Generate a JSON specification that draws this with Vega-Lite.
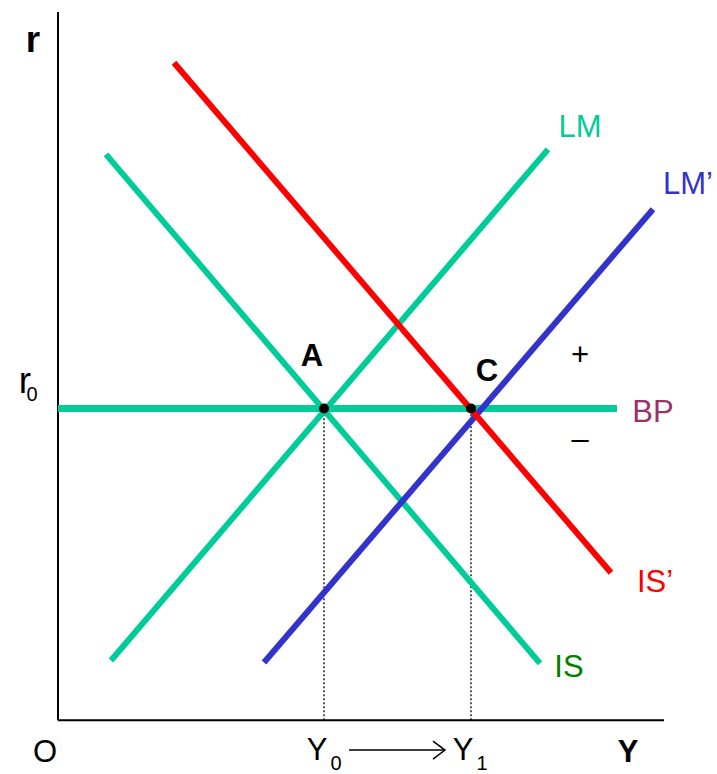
{
  "$schema": "https://vega.github.io/schema/vega-lite/v6.json",
  "width": 717,
  "height": 774,
  "autosize": {"type": "fit", "contains": "padding"},
  "padding": 0,
  "background": "white",
  "config": {"view": {"stroke": null}},
  "datasets": {
    "axes": [
      {"x": 0, "y": 0, "x2": 0, "y2": 711},
      {"x": 0, "y": 0, "x2": 606, "y2": 0}
    ],
    "guides": [
      {"x": 266, "y": 0, "x2": 266, "y2": 313},
      {"x": 413, "y": 0, "x2": 413, "y2": 313}
    ],
    "curves": [
      {"series": "BP", "pt": 1, "x": 0, "y": 313},
      {"series": "BP", "pt": 2, "x": 559, "y": 313},
      {"series": "LM", "pt": 1, "x": 53, "y": 60},
      {"series": "LM", "pt": 2, "x": 490, "y": 573},
      {"series": "IS", "pt": 1, "x": 48, "y": 568},
      {"series": "IS", "pt": 2, "x": 482, "y": 57},
      {"series": "LM’", "pt": 1, "x": 206, "y": 58},
      {"series": "LM’", "pt": 2, "x": 595, "y": 513},
      {"series": "IS’", "pt": 1, "x": 116, "y": 660},
      {"series": "IS’", "pt": 2, "x": 553, "y": 148}
    ],
    "points": [
      {"label": "A", "x": 266, "y": 313},
      {"label": "C", "x": 413, "y": 313}
    ],
    "shaft": [{"x": 291, "y": -30, "x2": 387, "y2": -30}],
    "head": [
      {"pt": 1, "x": 375, "y": -21},
      {"pt": 2, "x": 387, "y": -30},
      {"pt": 3, "x": 375, "y": -39}
    ],
    "bold": [
      {"label": "Y", "x": 570, "y": -42},
      {"label": "A", "x": 254, "y": 356},
      {"label": "C", "x": 429, "y": 341}
    ],
    "rbold": [{"label": "r", "x": -25, "y": 671}],
    "rreg": [{"label": "r", "x": -33, "y": 328}],
    "regular": [
      {"label": "O", "x": -13, "y": -42},
      {"label": "Y", "x": 259, "y": -40},
      {"label": "Y", "x": 405, "y": -40},
      {"label": "LM", "x": 522, "y": 585},
      {"label": "LM’", "x": 630, "y": 528},
      {"label": "BP", "x": 595, "y": 299},
      {"label": "IS’", "x": 597, "y": 129},
      {"label": "IS", "x": 511, "y": 43},
      {"label": "+", "x": 522, "y": 357},
      {"label": "–", "x": 522, "y": 272}
    ],
    "subs": [
      {"label": "0", "x": -26, "y": 320},
      {"label": "0", "x": 278, "y": -50},
      {"label": "1", "x": 424, "y": -50}
    ]
  },
  "encoding": {
    "x": {"field": "x", "type": "quantitative", "scale": {"domain": [-58, 659], "nice": false, "zero": false}, "axis": null},
    "y": {"field": "y", "type": "quantitative", "scale": {"domain": [-51, 723], "nice": false, "zero": false}, "axis": null}
  },
  "layer": [
    {
      "data": {"name": "axes"},
      "mark": {"type": "rule", "color": "black", "strokeWidth": 2},
      "encoding": {"x2": {"field": "x2"}, "y2": {"field": "y2"}}
    },
    {
      "data": {"name": "guides"},
      "mark": {"type": "rule", "color": "black", "strokeWidth": 1.3, "strokeDash": [2, 2]},
      "encoding": {"x2": {"field": "x2"}, "y2": {"field": "y2"}}
    },
    {
      "data": {"name": "curves"},
      "transform": [{"filter": "datum.series == 'BP'"}],
      "mark": {"type": "line", "strokeWidth": 7},
      "encoding": {
        "color": {"field": "series", "type": "nominal", "scale": {"domain": ["BP"], "range": ["#00CC99"]}, "legend": null},
        "order": {"field": "pt"}
      }
    },
    {
      "data": {"name": "curves"},
      "transform": [{"filter": "datum.series != 'BP'"}],
      "mark": {"type": "line", "strokeWidth": 6},
      "encoding": {
        "color": {"field": "series", "type": "nominal", "scale": {"domain": ["LM", "IS", "LM’", "IS’"], "range": ["#00CC99", "#00CC99", "#3333CC", "#FF0000"]}, "legend": null},
        "order": {"field": "pt"}
      }
    },
    {
      "data": {"name": "shaft"},
      "mark": {"type": "rule", "color": "black", "strokeWidth": 1.5},
      "encoding": {"x2": {"field": "x2"}, "y2": {"field": "y2"}}
    },
    {
      "data": {"name": "head"},
      "mark": {"type": "line", "color": "black", "strokeWidth": 1.5},
      "encoding": {"order": {"field": "pt"}}
    },
    {
      "data": {"name": "points"},
      "mark": {"type": "circle", "color": "black", "opacity": 1, "size": 100},
      "encoding": {}
    },
    {
      "data": {"name": "bold"},
      "mark": {"type": "text", "font": "Liberation Sans", "fontWeight": "bold", "fontSize": 31, "align": "center", "baseline": "alphabetic", "color": "black"},
      "encoding": {"text": {"field": "label"}}
    },
    {
      "data": {"name": "rbold"},
      "mark": {"type": "text", "font": "Liberation Sans", "fontWeight": "bold", "fontSize": 37, "align": "center", "baseline": "alphabetic", "color": "black"},
      "encoding": {"text": {"field": "label"}}
    },
    {
      "data": {"name": "rreg"},
      "mark": {"type": "text", "font": "Liberation Sans", "fontSize": 37, "align": "center", "baseline": "alphabetic", "color": "black"},
      "encoding": {"text": {"field": "label"}}
    },
    {
      "data": {"name": "regular"},
      "mark": {"type": "text", "font": "Liberation Sans", "fontSize": 31, "align": "center", "baseline": "alphabetic"},
      "encoding": {
        "text": {"field": "label"},
        "color": {"field": "label", "type": "nominal", "scale": {"domain": ["O", "Y", "LM", "LM’", "BP", "IS’", "IS", "+", "–"], "range": ["#000000", "#000000", "#00CC99", "#3333CC", "#993366", "#FF0000", "#008000", "#000000", "#000000"]}, "legend": null}
      }
    },
    {
      "data": {"name": "subs"},
      "mark": {"type": "text", "font": "Liberation Sans", "fontSize": 20, "align": "center", "baseline": "alphabetic", "color": "black"},
      "encoding": {"text": {"field": "label"}}
    }
  ],
  "resolve": {"scale": {"color": "independent"}}
}
